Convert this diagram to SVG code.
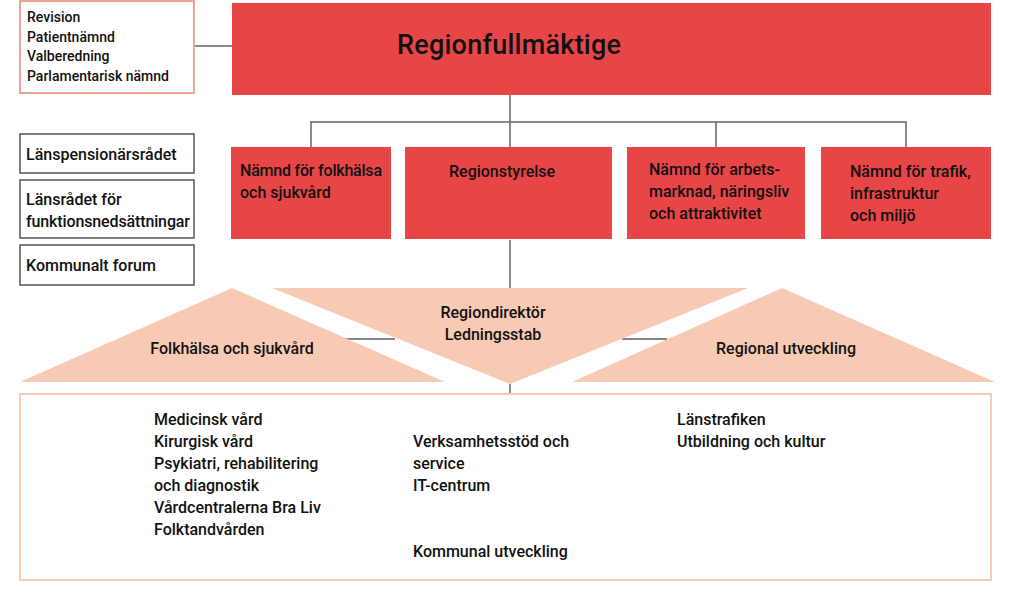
<svg xmlns="http://www.w3.org/2000/svg" width="1013" height="602" viewBox="0 0 1013 602">
<style>
text{font-family:"Roboto","Liberation Sans",sans-serif;font-size:16px;font-weight:500;fill:#111}
.s14{font-size:14px}
.big{font-size:27px}
.red{fill:#e84547}
.side{fill:#fff;stroke:#555;stroke-width:1.5}
.tri{fill:#f8cab4}
.ln{stroke:#666;stroke-width:1.5;fill:none}
.bk{stroke:#111;stroke-width:1;fill:none}
</style>
<g id="connectors">
<path class="ln" d="M195 46H233M510 95V147M311 147V122H906V147M716 122V147M510 240V288M510 384V394"/>
<path class="bk" d="M345 339H395M622 339H667"/>
</g>
<g id="side1"><rect x="20" y="1" width="174" height="92" fill="#fff" stroke="#e8876e" stroke-width="1.5"/>
<text class="s14" x="27" y="22">Revision</text><text class="s14" x="27" y="42">Patientnämnd</text><text class="s14" x="27" y="61">Valberedning</text><text class="s14" x="27" y="81">Parlamentarisk nämnd</text></g>
<g id="side2"><rect class="side" x="20" y="134" width="174" height="39"/><text x="26" y="160">Länspensionärsrådet</text></g>
<g id="side3"><rect class="side" x="20" y="180" width="174" height="58"/><text x="26" y="205">Länsrådet för</text><text x="26" y="227" textLength="164">funktionsnedsättningar</text></g>
<g id="side4"><rect class="side" x="20" y="245" width="174" height="40"/><text x="26" y="271">Kommunalt forum</text></g>
<g id="rf"><rect class="red" x="232" y="3" width="759" height="92"/><text class="big" x="397" y="54" textLength="224">Regionfullmäktige</text></g>
<g id="n1"><rect class="red" x="231" y="147" width="160" height="92"/><text x="240" y="176" textLength="142">Nämnd för folkhälsa</text><text x="240" y="198">och sjukvård</text></g>
<g id="n2"><rect class="red" x="405" y="147" width="207" height="92"/><text x="449" y="177">Regionstyrelse</text></g>
<g id="n3"><rect class="red" x="627" y="147" width="178" height="92"/><text x="649" y="175">Nämnd för arbets-</text><text x="649" y="197">marknad, näringsliv</text><text x="649" y="219">och attraktivitet</text></g>
<g id="n4"><rect class="red" x="821" y="147" width="170" height="92"/><text x="850" y="177">Nämnd för trafik,</text><text x="850" y="199">infrastruktur</text><text x="850" y="221">och miljö</text></g>
<g id="t1"><polygon class="tri" points="232,288 445,382 20,382"/><text x="232" y="354" text-anchor="middle">Folkhälsa och sjukvård</text></g>
<g id="t2"><polygon class="tri" points="272,288 748,288 510,384"/><text x="493" y="318" text-anchor="middle">Regiondirektör</text><text x="493" y="340" text-anchor="middle">Ledningsstab</text></g>
<g id="t3"><polygon class="tri" points="782,288 995,382 572,382"/><text x="786" y="354" text-anchor="middle">Regional utveckling</text></g>
<g id="bottom"><rect x="20" y="394" width="971" height="186" fill="#fff" stroke="#f8cab4" stroke-width="2"/>
<text x="154" y="425">Medicinsk vård</text><text x="154" y="447">Kirurgisk vård</text><text x="154" y="469">Psykiatri, rehabilitering</text><text x="154" y="491">och diagnostik</text><text x="154" y="513">Vårdcentralerna Bra Liv</text><text x="154" y="535">Folktandvården</text>
<text x="413" y="447">Verksamhetsstöd och</text><text x="413" y="469">service</text><text x="413" y="491">IT-centrum</text><text x="413" y="557">Kommunal utveckling</text>
<text x="677" y="425">Länstrafiken</text><text x="677" y="447">Utbildning och kultur</text></g>
</svg>
